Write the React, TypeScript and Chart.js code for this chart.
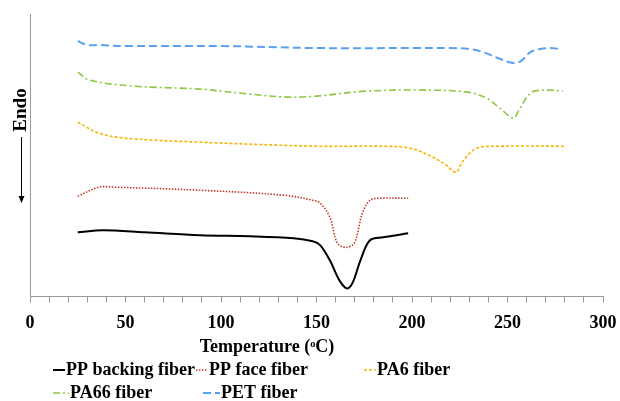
import React, { useEffect, useRef } from "react";
import { Chart, registerables } from "chart.js";
Chart.register(...registerables);

const ppBackingX = [25, 38, 60, 89, 115, 138, 148, 152, 157, 162, 166, 169, 173, 178, 185, 198];
const ppBackingY = [64, 66, 64, 61, 60, 58, 55, 51, 36, 16, 8, 14, 36, 56, 59, 63];
const ppFaceX = [25, 36, 45, 89, 133, 148, 152, 157, 161, 166, 170, 174, 178, 183, 198];
const ppFaceY = [100, 109, 109, 106, 101, 96, 93, 79, 53, 49, 54, 83, 96, 98, 98];
const pa6X = [25, 36, 50, 89, 150, 183, 199, 211, 218, 223, 227, 234, 246, 280];
const pa6Y = [174, 163, 158, 154, 150, 150, 148, 139, 131, 124, 136, 148, 150, 150];
const pa66X = [25, 31, 54, 89, 115, 135, 150, 176, 206, 229, 239, 246, 253, 256, 262, 269, 279];
const pa66Y = [224, 216, 210, 207, 202, 199, 200, 205, 206, 204, 198, 188, 178, 186, 203, 206, 205];
const petX = [25, 30, 36, 50, 100, 150, 200, 220, 230, 237, 245, 253, 257, 262, 267, 272, 278];
const petY = [255, 251, 251, 250, 250, 248, 248, 248, 247, 244, 238, 233, 235, 244, 247, 248, 247];

const seriesNames = ["PP backing fiber", "PP face fiber", "PA6 fiber", "PA66 fiber", "PET fiber"];
const xTickLabels = [0, 50, 100, 150, 200, 250, 300];

const FONT = '"Liberation Serif", "Times New Roman", serif';

function pts(xs: number[], ys: number[]) {
  return xs.map((x, i) => ({ x, y: ys[i] }));
}

export default function App() {
  const ref = useRef<HTMLCanvasElement | null>(null);
  useEffect(() => {
    const styles = [
      { color: "#000000", dash: [] as number[], width: 2 },
      { color: "#C0392B", dash: [1.5, 1.5], width: 1.6 },
      { color: "#F5B400", dash: [3, 2], width: 1.6 },
      { color: "#8DC63F", dash: [7, 3, 2, 3], width: 1.6 },
      { color: "#5AA0EE", dash: [8, 4], width: 2 },
    ];
    const data = [
      pts(ppBackingX, ppBackingY),
      pts(ppFaceX, ppFaceY),
      pts(pa6X, pa6Y),
      pts(pa66X, pa66Y),
      pts(petX, petY),
    ];
    const legendPos = [
      { lx: 53, tx: 66, y: 370 },
      { lx: 196, tx: 209, y: 370 },
      { lx: 364, tx: 377, y: 370 },
      { lx: 53, tx: 70, y: 393 },
      { lx: 203, tx: 221, y: 393 },
    ];
    const extras = {
      id: "extras",
      afterDraw(chart: any) {
        const ctx = chart.ctx;
        ctx.save();
        ctx.fillStyle = "#000";
        ctx.font = `bold 19px ${FONT}`;
        ctx.translate(21, 110);
        ctx.rotate(-Math.PI / 2);
        ctx.textAlign = "center";
        ctx.textBaseline = "middle";
        ctx.fillText("Endo", 0, 0);
        ctx.restore();
        ctx.save();
        ctx.strokeStyle = "#000";
        ctx.lineWidth = 1;
        ctx.beginPath();
        ctx.moveTo(21.5, 137);
        ctx.lineTo(21.5, 198);
        ctx.stroke();
        ctx.fillStyle = "#000";
        ctx.beginPath();
        ctx.moveTo(18.5, 196);
        ctx.lineTo(24.5, 196);
        ctx.lineTo(21.5, 203);
        ctx.closePath();
        ctx.fill();
        ctx.font = `bold 18px ${FONT}`;
        ctx.textAlign = "center";
        ctx.textBaseline = "middle";
        ctx.fillText("Temperature (\u1D52C)", 267, 347);
        ctx.textAlign = "left";
        seriesNames.forEach((name, i) => {
          const p = legendPos[i];
          const s = styles[i];
          ctx.strokeStyle = s.color;
          ctx.lineWidth = s.width;
          ctx.setLineDash(s.dash);
          ctx.beginPath();
          ctx.moveTo(p.lx, p.y);
          ctx.lineTo(p.tx - 1, p.y);
          ctx.stroke();
          ctx.setLineDash([]);
          ctx.fillStyle = "#000";
          ctx.fillText(name, p.tx, p.y);
        });
        ctx.restore();
      },
    };
    const chart = new Chart(ref.current!, {
      type: "line",
      data: {
        datasets: data.map((d, i) => ({
          label: seriesNames[i],
          data: d,
          borderColor: styles[i].color,
          borderDash: styles[i].dash,
          borderWidth: styles[i].width,
          pointRadius: 0,
          fill: false,
          tension: 0.35,
        })),
      },
      options: {
        animation: false,
        responsive: false,
        layout: { padding: { left: 30, right: 17, top: 14, bottom: 57 } },
        plugins: { legend: { display: false }, tooltip: { enabled: false } },
        scales: {
          x: {
            type: "linear",
            min: 0,
            max: 300,
            afterFit: (scale: any) => {
              scale.paddingRight = 0;
              scale.paddingLeft = 0;
            },
            ticks: {
              stepSize: 10,
              autoSkip: false,
              maxRotation: 0,
              color: "#000",
              font: { family: FONT, size: 18, weight: "bold" },
              callback: (v: any) => (xTickLabels.includes(Number(v)) ? String(v) : ""),
              padding: 10,
            },
            grid: { drawOnChartArea: false, tickLength: 6, color: "#999" },
            border: { color: "#999", width: 1 },
          },
          y: {
            min: 0,
            max: 282,
            ticks: { display: false },
            grid: { display: false, drawTicks: false },
            border: { color: "#999", width: 1 },
          },
        },
      },
      plugins: [extras],
    });
    return () => chart.destroy();
  }, []);
  return (
    <div style={{ position: "fixed", left: 0, top: 0, width: 620, height: 401, background: "#fff" }}>
      <canvas ref={ref} width={620} height={401} style={{ width: 620, height: 401 }} />
    </div>
  );
}
